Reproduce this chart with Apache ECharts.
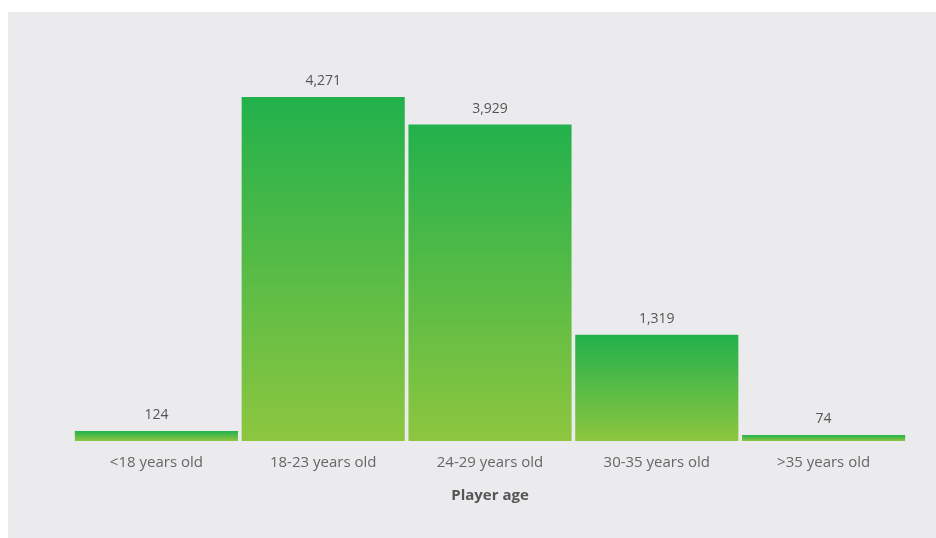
<!DOCTYPE html>
<html>
<head>
<meta charset="utf-8">
<script src="https://cdn.jsdelivr.net/npm/echarts@6/dist/echarts.min.js"></script>
<style>
html,body{margin:0;padding:0;background:#ffffff;width:936px;height:538px;overflow:hidden;}
#chart{position:absolute;left:8px;top:12px;width:928px;height:526px;}
</style>
</head>
<body>
<div id="chart"></div>
<script>
const categories = ['<18 years old', '18-23 years old', '24-29 years old', '30-35 years old', '>35 years old'];
const values = [124, 4271, 3929, 1319, 74];
const axisTitle = 'Player age';

const chart = echarts.init(document.getElementById('chart'));
chart.setOption({
  backgroundColor: '#ebebed',
  animation: false,
  grid: { left: 65, right: 29, top: 85, bottom: 97 },
  xAxis: {
    type: 'category',
    data: categories,
    name: axisTitle,
    nameLocation: 'middle',
    nameGap: 47,
    nameTextStyle: { fontFamily: 'Open Sans', fontSize: 15, fontWeight: 'bold', color: '#555' },
    axisLine: { show: false },
    axisTick: { show: false },
    axisLabel: { fontFamily: 'Open Sans', fontSize: 15, color: '#666', margin: 14 }
  },
  yAxis: {
    type: 'value',
    min: 0,
    max: 4271,
    show: false,
    splitLine: { show: false }
  },
  series: [{
    type: 'bar',
    data: values,
    barCategoryGap: '2.2%',
    itemStyle: {
      color: new echarts.graphic.LinearGradient(0, 0, 0, 1, [
        { offset: 0, color: '#22b14c' },
        { offset: 1, color: '#8dc63f' }
      ])
    },
    label: {
      show: true,
      position: 'top',
      distance: 9,
      fontFamily: 'Open Sans',
      fontSize: 14,
      color: '#555',
      formatter: p => p.value.toLocaleString('en-US')
    }
  }]
});
</script>
</body>
</html>
